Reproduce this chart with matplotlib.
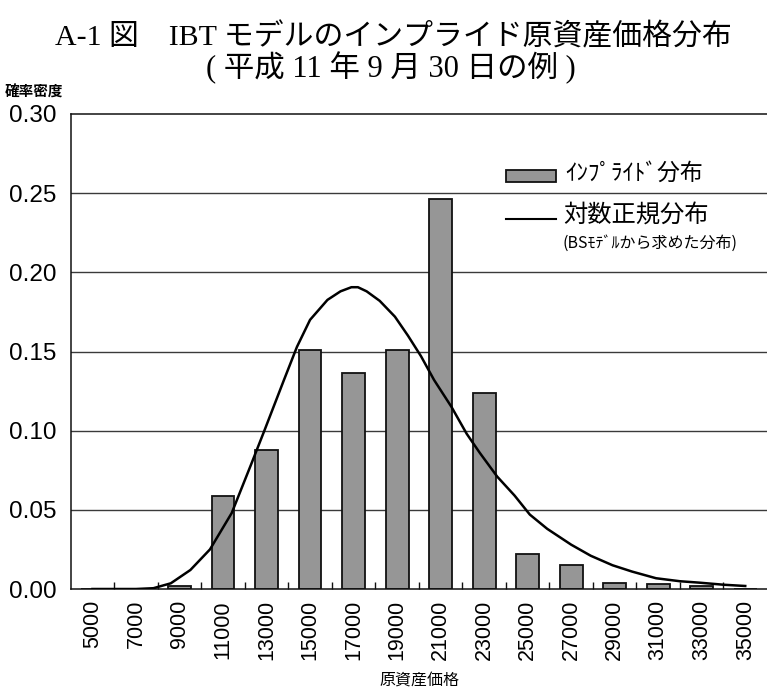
import matplotlib
matplotlib.use("Agg")
import matplotlib.pyplot as plt
from matplotlib.patches import Rectangle
from matplotlib.lines import Line2D

plt.rcParams['font.family'] = ['Liberation Sans', 'Noto Sans CJK JP', 'DejaVu Sans']

# ---- data ----
prices = [5000, 7000, 9000, 11000, 13000, 15000, 17000, 19000, 21000,
          23000, 25000, 27000, 29000, 31000, 33000, 35000]
tick_labels = [str(p) for p in prices]
implied = [0.0, 0.0, 0.002, 0.059, 0.088, 0.151, 0.1365, 0.151, 0.246,
           0.124, 0.022, 0.015, 0.004, 0.003, 0.002, 0.0]

curve_x = [5000, 7000, 7800, 8600, 9500, 10400, 11400, 12300, 12900, 13800,
           14400, 15000, 15800, 16400, 16900, 17200, 17600, 18200, 18900,
           19500, 20100, 20700, 21500, 22200, 22800, 23600, 24400, 25100,
           25900, 27000, 27900, 28900, 29800, 30900, 32000, 32900, 34000, 35000]
curve_y = [0.0, 0.0, 0.0005, 0.0036, 0.012, 0.025, 0.048, 0.079, 0.100, 0.132,
           0.153, 0.170, 0.1826, 0.188, 0.1906, 0.1906, 0.188, 0.182, 0.172,
           0.160, 0.147, 0.132, 0.115, 0.098, 0.086, 0.071, 0.059, 0.047,
           0.038, 0.028, 0.021, 0.015, 0.011, 0.0068, 0.0049, 0.004, 0.0027, 0.0019]

yticks = [0.00, 0.05, 0.10, 0.15, 0.20, 0.25, 0.30]

title1 = "A-1 図　IBT モデルのインプライド原資産価格分布"
title2 = "( 平成 11 年 9 月 30 日の例 )"
ylabel = "確率密度"
xlabel = "原資産価格"
leg_bar = "ｲﾝﾌﾟﾗｲﾄﾞ分布"
leg_line = "対数正規分布"
leg_line_sub = "(BSﾓﾃﾞﾙから求めた分布)"

W, H = 767, 693
fig = plt.figure(figsize=(W / 100, H / 100), dpi=100)
fig.patch.set_facecolor('white')

def fx(px):
    return px / W

def fy(py):
    return 1 - py / H

ax = fig.add_axes([fx(70.7), fy(589), fx(767) - fx(70.7), fy(114) - fy(589)])
ax.set_xlim(4000, 36000)
ax.set_ylim(0, 0.30)

for y in yticks[1:-1]:
    ax.axhline(y, color='#3a3a3a', lw=1.0, zorder=0)

ax.bar(prices, implied, width=1050, color='#969696', edgecolor='#111111',
       linewidth=1.3, zorder=2)
ax.plot(curve_x, curve_y, color='black', lw=1.8, zorder=3)

for s in ['left', 'top', 'bottom']:
    ax.spines[s].set_color('#111111')
    ax.spines[s].set_linewidth(1.1)
ax.spines['right'].set_visible(False)

ax.set_yticks(yticks)
ax.set_yticklabels([f"{v:.2f}" for v in yticks], fontsize=17.5,
                   family='Liberation Sans')
ax.tick_params(axis='y', length=0, pad=10)

ax.set_xticks(prices)
ax.set_xticklabels(tick_labels, rotation=90, fontsize=15.5,
                   family='Liberation Sans')
ax.tick_params(axis='x', which='major', length=0, pad=8)
ax.set_xticks([p + 1000 for p in prices[:-1]], minor=True)
ax.tick_params(axis='x', which='minor', direction='in', length=5, width=1,
               color='#111111')

fig.text(fx(393), fy(37), title1, ha='center', va='center', fontsize=21.5,
         family=['Liberation Serif', 'Noto Sans CJK JP'])
fig.text(fx(391), fy(68), title2, ha='center', va='center', fontsize=22,
         family=['Liberation Serif', 'Noto Sans CJK JP'])
fig.text(fx(5), fy(92), ylabel, ha='left', va='center', fontsize=10.5,
         family=['Noto Sans CJK JP'], fontweight='bold')
fig.text(fx(419), fy(681), xlabel, ha='center', va='center', fontsize=11.5,
         family=['Noto Sans CJK JP'])

# legend (manual)
fig.patches.append(Rectangle((fx(506), fy(182)), fx(556) - fx(506), fy(170) - fy(182),
                             transform=fig.transFigure, facecolor='#969696',
                             edgecolor='#111111', linewidth=1.3))
fig.lines.append(Line2D([fx(506), fx(556)], [fy(219), fy(219)],
                        transform=fig.transFigure, color='black', lw=1.5))
fig.text(fx(565), fy(173), leg_bar, ha='left', va='center', fontsize=16.5,
         family=['Noto Sans CJK JP'])
fig.text(fx(563), fy(216), leg_line, ha='left', va='center', fontsize=17.5,
         family=['Noto Sans CJK JP'])
fig.text(fx(563), fy(243), leg_line_sub, ha='left', va='center', fontsize=11.5,
         family=['Noto Sans CJK JP'])

fig.savefig('out.png', dpi=100, facecolor='white')
